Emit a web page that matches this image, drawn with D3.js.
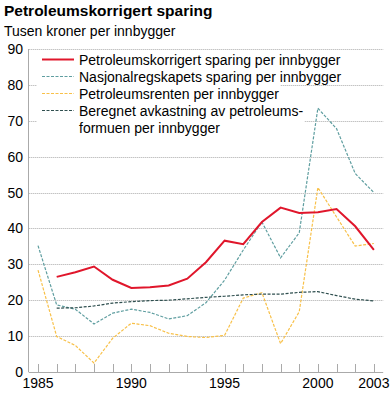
<!DOCTYPE html>
<meta charset="utf-8">
<style>
body { margin: 0; background: #fff; }
text { font-family: "Liberation Sans", Arial, sans-serif; fill: #000; }
.grid line { stroke: #aaa; stroke-width: 1; stroke-dasharray: 1,1; }
.line { fill: none; }
</style>
<body>
<script src="https://d3js.org/d3.v7.min.js"></script>
<script>
// data (1000 kr per innbygger)
var years = d3.range(1985, 2004);
var korrigert = [null, 26.5, 27.8, 29.4, 25.7, 23.4, 23.6, 24.1, 26.0, 30.6, 36.6, 35.6, 41.8, 45.8, 44.3, 44.5, 45.4, 40.6, 34.0];
var nasjonal = [35.2, 18.7, 17.5, 13.4, 16.4, 17.5, 16.6, 14.8, 15.7, 19.3, 25.6, 34.0, 41.8, 31.8, 38.8, 73.5, 67.8, 55.3, 50.0];
var renten = [28.4, 9.9, 7.4, 2.5, 9.4, 13.6, 12.9, 10.8, 9.9, 9.6, 10.2, 20.6, 22.1, 7.9, 16.8, 51.4, 43.2, 35.1, 35.8];
var avkastning = [null, 17.8, 17.9, 18.4, 19.2, 19.6, 19.9, 20.0, 20.4, 20.8, 21.1, 21.5, 21.7, 21.7, 22.2, 22.4, 21.3, 20.3, 19.8];
var yTicks = [0, 10, 20, 30, 40, 50, 60, 70, 80, 90];
var xLabels = [1985, 1990, 1995, 2000, 2003];

var series = [
  {name: ["Nasjonalregskapets sparing per innbygger"], values: nasjonal, color: "#5f9ea0", width: 1.2, dash: "3,1.5"},
  {name: ["Petroleumsrenten per innbygger"], values: renten, color: "#f8c048", width: 1.2, dash: "3,1.5"},
  {name: ["Beregnet avkastning av petroleums-", "formuen per innbygger"], values: avkastning, color: "#2f4f4f", width: 1.2, dash: "3,1.5"},
  {name: ["Petroleumskorrigert sparing per innbygger"], values: korrigert, color: "#e0162b", width: 2, dash: null}
];
var legendOrder = [3, 0, 1, 2];

var width = 390, height = 394;
var svg = d3.select("body").append("svg")
    .attr("width", width)
    .attr("height", height);

var x = d3.scaleLinear().domain([1984.5, 2003.5]).range([28.7, 383.2]);
var y = d3.scaleLinear().domain([0, 90]).range([372, 49]);

// title
svg.append("text")
    .attr("x", 4).attr("y", 15.5)
    .style("font-size", "15.5px").style("font-weight", "bold")
    .text("Petroleumskorrigert sparing");
svg.append("text")
    .attr("x", 4).attr("y", 36)
    .style("font-size", "14px")
    .text("Tusen kroner per innbygger");

// grid lines
svg.append("g").attr("class", "grid")
  .selectAll("line")
  .data(yTicks.filter(function(d) { return d > 0; }))
  .enter().append("line")
    .attr("x1", x.range()[0]).attr("x2", x.range()[1])
    .attr("y1", function(d) { return Math.round(y(d)) + 0.5; })
    .attr("y2", function(d) { return Math.round(y(d)) + 0.5; });

// y axis
svg.append("line")
    .attr("x1", 28.5).attr("x2", 28.5)
    .attr("y1", y(90)).attr("y2", y(0))
    .style("stroke", "#aaa");
svg.append("g").selectAll("text")
  .data(yTicks)
  .enter().append("text")
    .attr("x", 23)
    .attr("y", function(d) { return y(d); })
    .attr("dy", "0.36em")
    .style("text-anchor", "end")
    .style("font-size", "14px")
    .text(function(d) { return d; });

// x axis
svg.append("line")
    .attr("x1", x.range()[0]).attr("x2", x.range()[1])
    .attr("y1", 372.5).attr("y2", 372.5)
    .style("stroke", "#aaa");
svg.append("g").selectAll("line")
  .data(years)
  .enter().append("line")
    .attr("x1", function(d) { return Math.round(x(d)) + 0.5; })
    .attr("x2", function(d) { return Math.round(x(d)) + 0.5; })
    .attr("y1", 372).attr("y2", 364)
    .style("stroke", "#aaa");
svg.append("g").selectAll("text")
  .data(xLabels)
  .enter().append("text")
    .attr("x", function(d) { return x(d); })
    .attr("y", 388)
    .style("text-anchor", "middle")
    .style("font-size", "14px")
    .text(function(d) { return d; });

// lines
series.forEach(function(s) {
  var line = d3.line()
      .defined(function(d) { return d != null; })
      .x(function(d, i) { return x(years[i]); })
      .y(function(d) { return y(d); });
  svg.append("path")
      .datum(s.values)
      .attr("class", "line")
      .style("stroke", s.color)
      .style("stroke-width", s.width)
      .style("stroke-dasharray", s.dash)
      .attr("d", line);
});

// legend
var rowY = 59.5, rowH = 17;
var legend = svg.append("g");
legendOrder.forEach(function(k) {
  var s = series[k];
  var g = legend.append("g");
  var bg = g.append("rect").style("fill", "#fff");
  g.append("line")
      .attr("x1", 42).attr("x2", 74)
      .attr("y1", rowY).attr("y2", rowY)
      .style("stroke", s.color)
      .style("stroke-width", s.width)
      .style("stroke-dasharray", s.dash);
  var t = g.append("text")
      .attr("x", 79).attr("y", rowY)
      .style("font-size", "14px");
  s.name.forEach(function(n, j) {
    t.append("tspan")
        .attr("x", 79)
        .attr("y", rowY + j * rowH)
        .attr("dy", "0.36em")
        .text(n);
  });
  var bb = t.node().getBBox();
  bg.attr("x", 37).attr("y", rowY - rowH / 2)
    .attr("width", bb.x + bb.width - 37 + 1)
    .attr("height", rowH * s.name.length);
  rowY += rowH * s.name.length;
});
</script>
</body>
